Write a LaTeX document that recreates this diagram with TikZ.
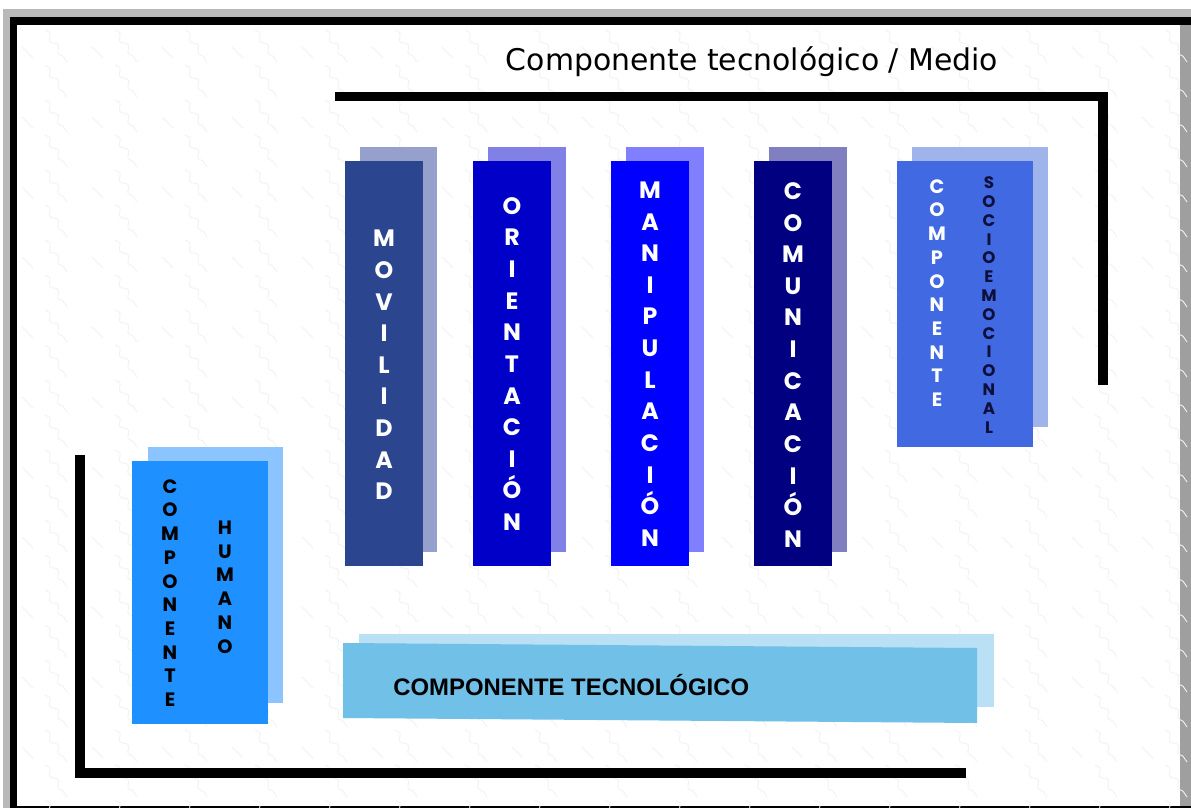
\documentclass[tikz,border=0pt]{standalone}
\usepackage{fontspec}
\usetikzlibrary{decorations.pathmorphing}
\newfontfamily\titlefont{DejaVu Sans}
\newfontfamily\colfont{Poppins}
\newfontfamily\tecfont{Liberation Sans}

\definecolor{movfront}{RGB}{43,69,143}
\definecolor{movback}{RGB}{149,160,204}
\definecolor{orifront}{RGB}{0,0,200}
\definecolor{oriback}{RGB}{128,128,230}
\definecolor{manfront}{RGB}{0,0,255}
\definecolor{manback}{RGB}{128,128,255}
\definecolor{comfront}{RGB}{0,0,128}
\definecolor{comback}{RGB}{128,128,192}
\definecolor{socfront}{RGB}{65,105,225}
\definecolor{socback}{RGB}{160,180,236}
\definecolor{humfront}{RGB}{30,144,255}
\definecolor{humback}{RGB}{140,196,255}
\definecolor{tecfront}{RGB}{113,192,231}
\definecolor{tecback}{RGB}{185,224,244}
\definecolor{darknavy}{RGB}{15,15,60}

\tikzset{
  wave/.style={gray!10, line width=0.5pt, decorate,
    decoration={snake, amplitude=0.05cm, segment length=0.3cm}},
  wavedash/.style={gray!10, line width=0.5pt},
  bracket/.style={line width=5.4pt},
  bigletters/.style={text=white, align=center, inner sep=0pt,
    font=\colfont\bfseries\fontsize{13.5}{18}\selectfont},
  smallletters/.style={align=center, inner sep=0pt,
    font=\colfont\bfseries\fontsize{11}{13.5}\selectfont},
}

\begin{document}
\begin{tikzpicture}[x=0.02cm, y=-0.02cm]
\useasboundingbox (0,0) rectangle (1191,808);

% frame
\fill[white] (0,0) rectangle (1191,808);
\fill[gray!55] (3,9) rectangle (1191,808);
\fill[black] (10,17) rectangle (1191,808);
\fill[white] (17,25) rectangle (1180,806);
\fill[gray!75] (1180,25) rectangle (1191,806);

% background pattern
\foreach \i in {0,...,16}
  \foreach \j in {0,...,22}
    \draw[wave] ({\i*70+45},{\j*35+30}) -- ++(22,32);
\foreach \i in {0,...,16}
  \foreach \j in {0,...,11}
    \draw[wavedash] ({\i*70+22},{\j*70+47}) -- ++(11,11);

% title and brackets
\node[anchor=base, font=\titlefont\fontsize{17}{20}\selectfont] (title) at (752,71)
  {Componente tecnológico / Medio};
\draw[bracket] (335,96.5) -- (1103,96.5) -- (1103,385);
\draw[bracket] (80,455) -- (80,773) -- (966,773);

% columns
\fill[movback] (360,147) rectangle (437,552);
\fill[movfront] (345,161) rectangle (423,566);
\node[bigletters] (mov) at (384,365) {M\\O\\V\\I\\L\\I\\D\\A\\D};

\fill[oriback] (488,147) rectangle (566,552);
\fill[orifront] (473,161) rectangle (551,566);
\node[bigletters] (ori) at (512,364) {O\\R\\I\\E\\N\\T\\A\\C\\I\\Ó\\N};

\fill[manback] (626,147) rectangle (704,552);
\fill[manfront] (611,161) rectangle (689,566);
\node[bigletters] (man) at (650,364) {M\\A\\N\\I\\P\\U\\L\\A\\C\\I\\Ó\\N};

\fill[comback] (769,147) rectangle (847,552);
\fill[comfront] (754,161) rectangle (832,566);
\node[bigletters] (com) at (793,365) {C\\O\\M\\U\\N\\I\\C\\A\\C\\I\\Ó\\N};

% componente socioemocional
\fill[socback] (912,147) rectangle (1048,427);
\fill[socfront] (897,161) rectangle (1033,447);
\node[smallletters, text=white] (socA) at (937,293) {C\\O\\M\\P\\O\\N\\E\\N\\T\\E};
\node[smallletters, text=darknavy, font=\colfont\bfseries\fontsize{9.5}{10.7}\selectfont]
  (socB) at (989,305) {S\\O\\C\\I\\O\\E\\M\\O\\C\\I\\O\\N\\A\\L};

% componente humano
\fill[humback] (148,447) rectangle (283,703);
\fill[humfront] (132,461) rectangle (268,724);
\node[smallletters] (humA) at (170,593) {C\\O\\M\\P\\O\\N\\E\\N\\T\\E};
\node[smallletters] (humB) at (225,587) {H\\U\\M\\A\\N\\O};

% componente tecnologico
\fill[tecback] (359,634) rectangle (994,707);
\fill[tecfront] (343,643) -- (977,648) -- (977,723) -- (343,718) -- cycle;
\node[anchor=base west, inner sep=0pt, font=\tecfont\bfseries\fontsize{13.6}{16}\selectfont]
  (tec) at (393,695) {COMPONENTE TECNOLÓGICO};

\end{tikzpicture}
\end{document}
